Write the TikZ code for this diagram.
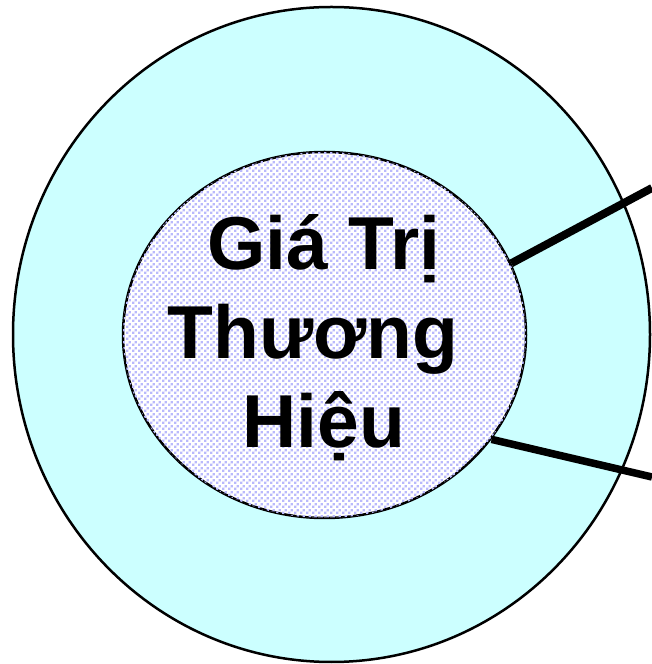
\documentclass[tikz,border=0pt]{standalone}
\usepackage{fontspec}
\setmainfont{Liberation Sans}
\usetikzlibrary{shapes.geometric, patterns}
\definecolor{ring}{RGB}{204,255,255}
\definecolor{dots}{RGB}{185,185,252}
\pgfdeclarepatternformonly{specks}{\pgfqpoint{0pt}{0pt}}{\pgfqpoint{6pt}{6pt}}{\pgfqpoint{6pt}{6pt}}{%
  \pgfpathrectangle{\pgfqpoint{0pt}{0pt}}{\pgfqpoint{2.8pt}{2.8pt}}%
  \pgfpathrectangle{\pgfqpoint{3pt}{3pt}}{\pgfqpoint{2.8pt}{2.8pt}}%
  \pgfusepath{fill}}

\begin{document}
\begin{tikzpicture}[x=1pt, y=1pt, font=\bfseries\fontsize{75}{89}\selectfont]
    \useasboundingbox (0,0) rectangle (652,664);
    \node[draw, line width=2.5pt, ellipse, fill=ring, inner sep=0, minimum width=637, minimum height=655] (outer) at (331.5,329.5) {};
    \node[draw, line width=2.5pt, ellipse, fill=white, postaction={pattern=specks, pattern color=dots}, inner sep=0, minimum width=403, minimum height=366] (core) at (324.5,329) {};
    \node[align=center, inner sep=0] (title) at (324,326) {Giá Trị\\Thương\rule{22pt}{0pt}\\Hiệu};
    \coordinate (upper) at (652,476);
    \coordinate (lower) at (652,187);
    \draw[line width=8pt] (core.21.7) -- (upper);
    \draw[line width=7.5pt] (core.-32) -- (lower);
  \end{tikzpicture}
\end{document}
